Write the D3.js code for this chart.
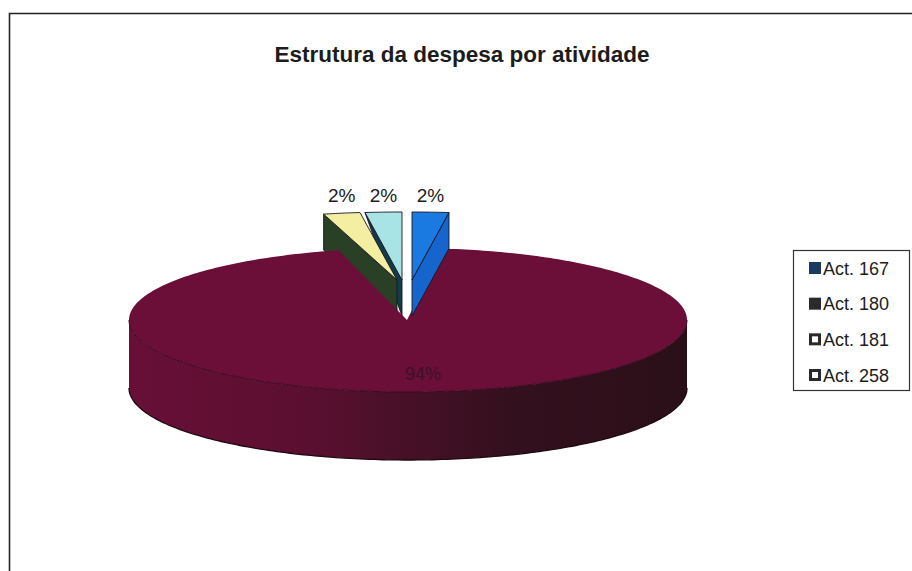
<!DOCTYPE html>
<html lang="pt">
<head>
<meta charset="utf-8">
<title>Estrutura da despesa por atividade</title>
<script src="https://cdn.jsdelivr.net/npm/d3@7/dist/d3.min.js"></script>
<style>
  html, body { margin: 0; padding: 0; background: #fff; }
  svg { display: block; }
  text { font-family: "Liberation Sans", Arial, sans-serif; fill: #1c1c1c; }
</style>
</head>
<body>
<svg id="chart" width="912" height="571"></svg>
<script>
// Chart content
const chartTitle = "Estrutura da despesa por atividade";
const categories = ["Act. 167", "Act. 180", "Act. 181", "Act. 258"];
const shares = [2, 94, 2, 2];

// Slice colours: top face and side face, in category order
const topColors = ["#1b79e2", "#6b0f38", "#f3eea2", "#a8e4e6"];
const sideColors = ["#1565cc", "#6a0f37", "#2a4026", "#123c4a"];
// Legend swatches: fill and border
const swatchFills = ["#1b3a5e", "#2a2a2a", "#ffffff", "#ffffff"];
const swatchStrokes = ["#1b3a5e", "#2a2a2a", "#2a2a2a", "#2a2a2a"];

// Layout of the tilted pie
const W = 912, H = 571;
const cx = 408, cy = 320, rx = 279, ry = 72, depth = 68;
const wedgeRx = 295, wedgeRy = 68, wedgeDepth = 36;
// Pulled-out slices: apex position, keyed by category index
const apexX = { 0: 412, 2: 397, 3: 402 };
const apexY = 280;
// A slice's outer corner drops with the depth, except where its neighbour hides it
const outerDrop = { 0: 1, 2: 1, 3: 0 };

const svg = d3.select("#chart");
const fmt = d3.format(".0%");
const total = d3.sum(shares);

const slices = d3.pie().sort(null).startAngle(0).endAngle(2 * Math.PI)(shares);
const pt = (a, ox, oy, rX, rY) => [ox + rX * Math.sin(a), oy - rY * Math.cos(a)];
const line = d3.line();
const steps = (a0, a1, n = 180) => d3.range(n + 1).map(i => a0 + (a1 - a0) * i / n);

// Side gradient: lit on the left, falling into shadow on the right
const xPos = d3.scaleLinear().domain([0, 1]).range([cx - rx, cx + rx]);
const defs = svg.append("defs");
const grad = defs.append("linearGradient").attr("id", "rim")
  .attr("gradientUnits", "userSpaceOnUse")
  .attr("x1", xPos(0)).attr("x2", xPos(1)).attr("y1", 0).attr("y2", 0);
[[0, "#680f37"], [0.3, "#5c0f31"], [0.5, "#471027"], [0.68, "#34101e"], [1, "#2a0f18"]]
  .forEach(([o, c]) => grad.append("stop").attr("offset", o).attr("stop-color", c));

// Chart frame
svg.append("path")
  .attr("d", line([[9.5, H], [9.5, 13.5], [W, 13.5]]))
  .attr("fill", "none").attr("stroke", "#222").attr("stroke-width", 1.6);

svg.append("text").attr("x", 462).attr("y", 62).attr("text-anchor", "middle")
  .attr("font-size", 22.5).attr("font-weight", 700).text(chartTitle);

const edge = "#1a1420";

// One pulled-out slice: its radial side face, then its top face
function drawWedge(i) {
  const s = slices[i];
  const ax = apexX[i];
  const a0 = s.startAngle, a1 = s.endAngle;
  const outerAngle = i === 0 ? a1 : a0;
  const o = pt(outerAngle, ax, apexY, wedgeRx, wedgeRy);
  svg.append("path")
    .attr("d", line([o, [ax, apexY], [ax, apexY + wedgeDepth],
                     [o[0], o[1] + wedgeDepth * outerDrop[i]]]) + "Z")
    .attr("fill", sideColors[i]).attr("stroke", edge).attr("stroke-width", 0.9);
  const arcPts = steps(a0, a1, 12).map(a => pt(a, ax, apexY, wedgeRx, wedgeRy));
  svg.append("path")
    .attr("d", line([[ax, apexY], ...arcPts]) + "Z")
    .attr("fill", topColors[i]).attr("stroke", edge).attr("stroke-width", 0.9);
}

// Back slices first; the large slice overlaps them, the first slice lies over it
drawWedge(3);
drawWedge(2);

// Large slice: rim below the front half, then the top face
const big = slices[1];
const rimA = steps(Math.PI / 2, 3 * Math.PI / 2);
const rimTop = rimA.map(a => pt(a, cx, cy, rx, ry));
const rimBot = rimA.map(a => pt(a, cx, cy + depth, rx, ry)).reverse();
svg.append("path").attr("d", line([...rimTop, ...rimBot]) + "Z")
  .attr("fill", "url(#rim)").attr("stroke", "none");
svg.append("path").attr("d", line(rimBot))
  .attr("fill", "none").attr("stroke", "#1e0a12").attr("stroke-width", 1.3);

const apex = [cx - 1, cy];
const bigArc = steps(big.startAngle, big.endAngle, 360).map(a => pt(a, cx, cy, rx, ry));
svg.append("path").attr("d", line([apex, ...bigArc]) + "Z").attr("fill", topColors[1]);
svg.append("path").attr("d", line(rimTop))
  .attr("fill", "none").attr("stroke", "#3a0a20").attr("stroke-width", 1);

drawWedge(0);

// Percentage labels sit above the middle of each pulled-out slice
const labelX = i => {
  const mid = (slices[i].startAngle + slices[i].endAngle) / 2;
  return pt(mid, apexX[i], apexY, wedgeRx, wedgeRy)[0];
};
[0, 2, 3].forEach(i => {
  svg.append("text").attr("x", labelX(i)).attr("y", 202)
    .attr("text-anchor", "middle").attr("font-size", 19)
    .text(fmt(shares[i] / total));
});
svg.append("text").attr("x", 423).attr("y", 380).attr("text-anchor", "middle")
  .attr("font-size", 18).style("fill", "#3b1228")
  .text(fmt(shares[1] / total));

// Legend
const rowY = d3.scalePoint().domain(categories).range([268, 375]);
svg.append("rect").attr("x", 793.5).attr("y", 250.5).attr("width", 116).attr("height", 140)
  .attr("fill", "#fff").attr("stroke", "#333").attr("stroke-width", 1.2);
const rows = svg.selectAll("g.row").data(categories).join("g")
  .attr("class", "row")
  .attr("transform", d => `translate(0,${rowY(d)})`);
rows.append("rect")
  .attr("x", (d, i) => i > 1 ? 810.5 : 809).attr("y", (d, i) => i > 1 ? -4.5 : -6)
  .attr("width", (d, i) => i > 1 ? 9 : 12).attr("height", (d, i) => i > 1 ? 9 : 12)
  .attr("fill", (d, i) => swatchFills[i])
  .attr("stroke", (d, i) => swatchStrokes[i])
  .attr("stroke-width", (d, i) => i > 1 ? 3 : 0);
rows.append("text").attr("x", 823).attr("y", 6.5).attr("font-size", 18).text(d => d);
</script>
</body>
</html>
